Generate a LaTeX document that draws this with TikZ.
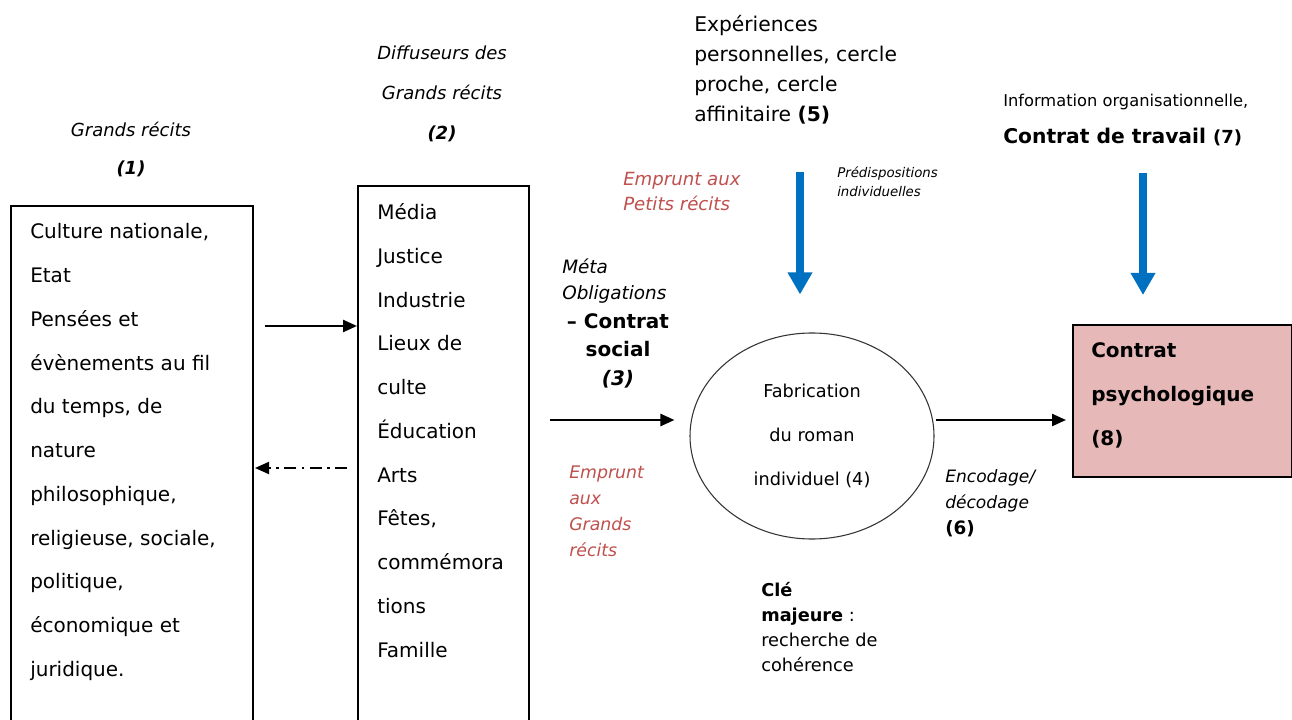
\documentclass[tikz,border=0pt]{standalone}
\usepackage{fontspec}
\setmainfont{DejaVu Sans}
\usetikzlibrary{arrows.meta,calc,shapes.geometric}
\definecolor{myred}{HTML}{C0504D}
\definecolor{myblue}{HTML}{0070C0}
\definecolor{mypink}{HTML}{E6B8B7}
\begin{document}
\begin{tikzpicture}[x=0.75pt,y=-0.75pt,
  box/.style={draw=black,line width=1.5pt,anchor=north west,inner sep=0},
  txt/.style={inner sep=0,anchor=north west,align=left},
  arr/.style={line width=1.8pt,-{Triangle[length=10.5pt,width=9pt]}},
  bluearr/.style={myblue,line width=6pt,-{Triangle[length=16.5pt,width=17.5pt]}},
  redit/.style={myred,font=\fontsize{13.6}{18.75}\selectfont\itshape}]
\useasboundingbox (0,0) rectangle (1292,720);
\fill[white] (0,0) rectangle (1292,720);

% boxes
\node[box,minimum width=181.5pt,minimum height=390pt] (b1) at (10,205) {};
\node[box,minimum width=128.25pt,minimum height=405pt] (b2) at (357,185) {};
\node[box,fill=mypink,minimum width=164.25pt,minimum height=114pt] (b8) at (1072,324) {};
\node[draw=black!80,line width=0.8pt,ellipse,minimum width=183pt,minimum height=154.5pt,inner sep=0] (ell) at (812,436) {};

% top labels
\node[inner sep=0,anchor=north,align=center,font=\fontsize{13.5}{28.5}\selectfont] (l1) at (131,122)
  {\textit{Grands récits}\\\textbf{\textit{(1)}}};
\node[inner sep=0,anchor=north,align=center,font=\fontsize{13.5}{30}\selectfont] (l2) at (442,46)
  {\textit{Diffuseurs des}\\\textit{Grands récits}\\\textbf{\textit{(2)}}};

% box texts
\node[txt,font=\fontsize{15}{32.8}\selectfont] (t1) at (30,223.5)
  {Culture nationale,\\Etat\\Pensées et\\évènements au fil\\du temps, de\\nature\\philosophique,\\religieuse, sociale,\\politique,\\économique et\\juridique.};
\node[txt,font=\fontsize{15}{32.8}\selectfont] (t2) at (377,203.5)
  {Média\\Justice\\Industrie\\Lieux de\\culte\\Éducation\\Arts\\Fêtes,\\commémora\\tions\\Famille};

% middle labels
\node[txt,font=\fontsize{13.8}{19.5}\selectfont\itshape] (meta) at (562,259) {Méta\\Obligations};
\node[inner sep=0,anchor=north,align=center,font=\fontsize{15}{21.5}\selectfont\bfseries] (cs) at (618,313)
  {– Contrat\\social\\\textit{(3)}};
\node[txt,redit] (ep) at (623,172) {Emprunt aux\\Petits récits};
\node[txt,redit,font=\fontsize{13}{19.5}\selectfont\itshape] (eg) at (569,466) {Emprunt\\aux\\Grands\\récits};
\node[txt,font=\fontsize{10}{14.25}\selectfont\itshape] (pred) at (837,167) {Prédispositions\\individuelles};
\node[txt,font=\fontsize{15.2}{22.5}\selectfont] (exp) at (694,15.5)
  {Expériences\\personnelles, cercle\\proche, cercle\\affinitaire \textbf{(5)}};
\node[inner sep=0,align=center,font=\fontsize{13.3}{33}\selectfont] (et) at (ell.center)
  {Fabrication\\du roman\\individuel (4)};
\node[txt,font=\fontsize{12.8}{19.5}\selectfont] (enc) at (945,469)
  {\textit{Encodage/}\\\textit{décodage}\\\textbf{\fontsize{13.8}{19.5}\selectfont(6)}};
\node[txt,font=\fontsize{15}{33}\selectfont\bfseries] (t8) at (1091,342) {Contrat\\psychologique\\(8)};
\node[txt,font=\fontsize{12.2}{12}\selectfont] (info) at (1003,94) {Information organisationnelle,};
\node[txt,font=\fontsize{15.2}{16}\selectfont\bfseries] (ct) at (1003,128) {Contrat de travail {\fontsize{13.5}{16}\selectfont(7)}};
\node[txt,font=\fontsize{13.3}{18.75}\selectfont] (cle) at (761,582.5)
  {\textbf{Clé}\\\textbf{majeure} :\\recherche de\\cohérence};

% connectors
\coordinate (r1) at (0,326);
\coordinate (r2) at (0,468);
\coordinate (r3) at (0,420);
\draw[arr] ($(b1.east|-r1)+(11,0)$) -- (b2.west|-r1);
\draw[line width=1.5pt,dash pattern=on 9pt off 4pt on 2pt off 4pt,-{Triangle[length=10.5pt,width=9pt]}]
  ($(b2.west|-r2)+(-10,0)$) -- ($(b1.east|-r2)+(1,0)$);
\draw[arr,shorten >=11.25pt] ($(b2.east|-r3)+(20,0)$) -- (ell.west|-r3);
\draw[arr,shorten >=4.5pt] ($(ell.east|-r3)+(1,0)$) -- (b8.west|-r3);
\coordinate (s5) at (800,172);
\coordinate (s7) at (1143,173);
\draw[bluearr,shorten >=28.5pt] (s5) -- (ell.north-|s5);
\draw[bluearr,shorten >=21.75pt] (s7) -- (b8.north-|s7);
\end{tikzpicture}
\end{document}
